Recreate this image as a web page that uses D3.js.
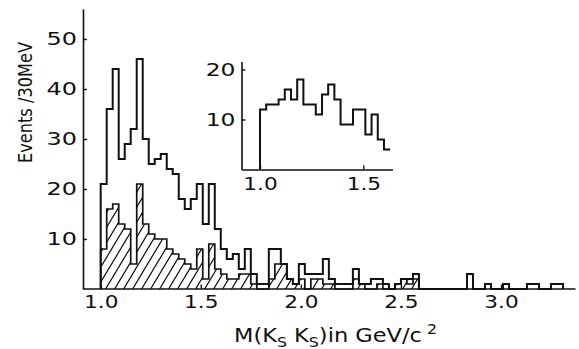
<!DOCTYPE html>
<html>
<head>
<meta charset="utf-8">
<script src="https://cdn.jsdelivr.net/npm/d3@7"></script>
<style>
  html, body { margin: 0; padding: 0; background: #fff; }
  svg { display: block; }
  text { font-family: "DejaVu Sans", sans-serif; fill: #111; }
</style>
</head>
<body>
<svg id="chart" width="579" height="349"></svg>
<script>
// histogram bins: 30 MeV wide, starting at 1.0 GeV
const binStart = 1.0;
const binWidth = 0.03;

// all events per bin (open histogram)
const totalEvents = [
  21, 36, 44, 26, 29, 32, 46, 30, 25, 26,
  27, 24, 23, 18, 16, 18, 21, 13, 21, 12,
   8,  6,  7,  4,  8,  3,  1,  1,  8,  8,
   5,  2,  1,  5,  3,  3,  3,  6,  2,  1,
   1,  1,  4,  1,  1,  2,  2,  1,  0,  1,
   2,  2,  3,  0,  0,  0,  0,  0,  0,  0,
   0,  3,  0,  0,  1,  0,  0,  1,  0,  0,
   0,  1,  1,  0,  0,  1,  1
];

// hatched subset per bin
const hatchedEvents = [
   8, 16, 17, 13, 12,  5, 21, 13, 11, 10,
  10,  8,  7,  6,  5,  4,  8,  2,  9,  4,
   3,  2,  2,  3,  3,  1,  0,  0,  2,  5,
   5,  2,  1,  2,  0,  2,  2,  1,  1,  0,
   0,  0,  2,  1,  0,  0,  1,  0,  0,  1,
   2,  1,  2
];

// inset histogram
const insetEvents = [
  12, 13, 13, 14, 16, 14, 18, 13, 13, 11,
  15, 17, 14,  9,  9, 12, 12,  7, 11,  6, 4
];

const xTicks = [1.0, 1.5, 2.0, 2.5, 3.0];
const yTicks = [10, 20, 30, 40, 50];
const insetXTicks = [1.0, 1.5];
const insetYTicks = [10, 20];

const svg = d3.select('#chart');

svg.append('rect').attr('width', 579).attr('height', 349).attr('fill', '#fff');

// hatch pattern
const pat = svg.append('defs').append('pattern')
  .attr('id', 'hatch')
  .attr('patternUnits', 'userSpaceOnUse')
  .attr('width', 9)
  .attr('height', 15);
pat.append('path')
  .attr('d', 'M-0.6,16L9.6,-1M-9.6,16L0.6,-1M8.4,16L18.6,-1')
  .attr('stroke', '#111')
  .attr('stroke-width', 1.2)
  .attr('fill', 'none');

// main scales
const x = d3.scaleLinear().domain([0.9116, 3.3697]).range([83, 575]);
const y = d3.scaleLinear().domain([0, 56]).range([289, 9]);

function stepPoints(values, close) {
  const pts = [[binStart, 0]];
  values.forEach((v, i) => pts.push([binStart + i * binWidth, v]));
  const end = binStart + values.length * binWidth;
  pts.push([end, values[values.length - 1]]);
  if (close) pts.push([end, 0]);
  return pts;
}

const line = d3.line()
  .x(d => x(d[0]))
  .y(d => y(d[1]))
  .curve(d3.curveStepAfter);

svg.append('path')
  .attr('d', line(stepPoints(totalEvents, true)))
  .attr('fill', 'none')
  .attr('stroke', '#111')
  .attr('stroke-width', 2)
  .attr('stroke-linejoin', 'miter');

svg.append('path')
  .attr('d', line(stepPoints(hatchedEvents, true)))
  .attr('fill', 'url(#hatch)')
  .attr('stroke', '#111')
  .attr('stroke-width', 1.7);

// main axes
const yAxis = svg.append('g')
  .attr('transform', `translate(${x.range()[0]},0)`)
  .call(d3.axisLeft(y).tickValues(yTicks).tickSize(-4).tickSizeOuter(0).tickFormat(d3.format('d')));
yAxis.selectAll('text')
  .attr('x', null)
  .attr('font-size', 18)
  .attr('transform', 'translate(-6,0) scale(1.33,1)');

const xAxis = svg.append('g')
  .attr('transform', `translate(0,${y(0) - 0.5})`)
  .call(d3.axisBottom(x).tickValues(xTicks).tickSize(-4).tickSizeOuter(0).tickPadding(6.5).tickFormat(d3.format('.1f')));
xAxis.selectAll('text')
  .attr('font-size', 18)
  .attr('transform', 'scale(1.2,1)');

svg.selectAll('.domain').attr('stroke', '#111').attr('stroke-width', 1.6);
svg.selectAll('.tick line').attr('stroke', '#111').attr('stroke-width', 1.4);

// axis titles
svg.append('text')
  .attr('transform', 'translate(32,163) rotate(-90)')
  .attr('font-size', 19)
  .attr('textLength', 121)
  .attr('lengthAdjust', 'spacingAndGlyphs')
  .text('Events /30MeV');

const title = svg.append('text')
  .attr('x', 234)
  .attr('y', 342)
  .attr('font-size', 20)
  .attr('textLength', 203)
  .attr('lengthAdjust', 'spacingAndGlyphs');
title.append('tspan').text('M(K');
title.append('tspan').attr('font-size', 14).attr('dy', 5).text('S');
title.append('tspan').attr('dy', -5).text(' K');
title.append('tspan').attr('font-size', 14).attr('dy', 5).text('S');
title.append('tspan').attr('dy', -5).text(')in GeV/c');
title.append('tspan').attr('font-size', 14).attr('dy', -8).text(' 2');

// inset
const ix = d3.scaleLinear().domain([0.9105, 1.6413]).range([241.5, 392.5]);
const iy = d3.scaleLinear().domain([0, 21.6]).range([169.5, 61.5]);

const insetLine = d3.line()
  .x(d => ix(d[0]))
  .y(d => iy(d[1]))
  .curve(d3.curveStepAfter);

svg.append('path')
  .attr('d', insetLine(stepPoints(insetEvents, false)))
  .attr('fill', 'none')
  .attr('stroke', '#111')
  .attr('stroke-width', 2);

const iyAxis = svg.append('g')
  .attr('transform', `translate(${ix.range()[0]},0)`)
  .call(d3.axisLeft(iy).tickValues(insetYTicks).tickSize(-4).tickSizeOuter(0).tickFormat(d3.format('d')));
iyAxis.selectAll('text')
  .attr('x', null)
  .attr('font-size', 18)
  .attr('transform', 'translate(-6,0) scale(1.3,1)');

const ixAxis = svg.append('g')
  .attr('transform', `translate(0,${iy(0)})`)
  .call(d3.axisBottom(ix).tickValues(insetXTicks).tickSize(-4).tickSizeOuter(0).tickPadding(7.5).tickFormat(d3.format('.1f')));
ixAxis.selectAll('text')
  .attr('font-size', 18)
  .attr('transform', 'scale(1.2,1)');

svg.selectAll('.domain').attr('stroke', '#111').attr('stroke-width', 1.6);
svg.selectAll('.tick line').attr('stroke', '#111').attr('stroke-width', 1.4);
svg.selectAll('.tick text').attr('fill', '#111');
</script>
</body>
</html>
